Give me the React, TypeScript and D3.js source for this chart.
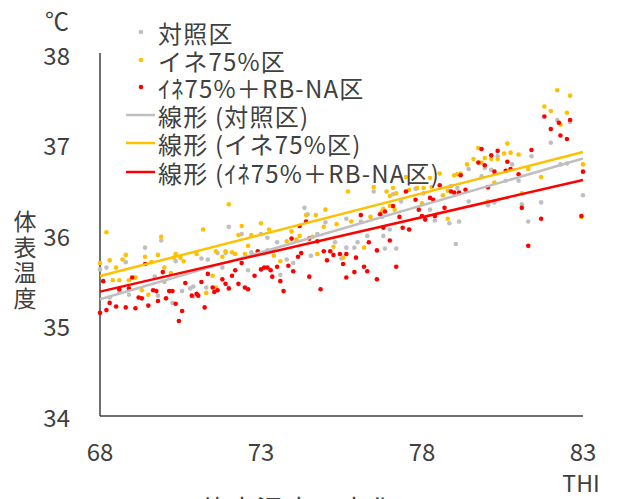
import React from "react";
import * as d3 from "d3";

// 対照区
const controlPoints: [number, number][] = [
  [68.0, 35.62], [68.2, 35.64], [68.8, 35.7], [69.1, 35.53], [69.4, 35.86], [69.7, 35.54], [69.9, 35.94],
  [70.35, 35.71], [70.0, 35.48], [70.55, 35.38], [68.3, 35.31], [68.9, 35.34], [69.8, 35.33], [70.25, 35.25],
  [70.9, 35.43], [68.6, 35.37], [72.0, 36.09], [72.4, 36.01], [73.0, 36.01], [73.2, 35.97], [71.65, 35.8],
  [71.9, 35.8], [71.15, 35.74], [71.35, 35.73], [72.7, 35.81], [73.5, 35.92], [73.2, 35.83], [71.8, 35.64],
  [72.6, 35.61], [73.6, 35.56], [71.3, 35.42], [70.8, 35.41], [70.9, 35.32], [73.4, 35.83],
  [76.5, 36.48], [74.35, 36.3], [74.45, 36.23], [75.0, 36.14], [75.65, 36.18], [76.1, 36.15], [74.75, 36.01],
  [75.3, 35.92], [76.0, 35.92], [76.3, 35.99], [76.75, 36.2], [76.8, 35.99], [75.9, 35.86], [74.55, 35.77],
  [74.0, 35.69], [73.8, 35.73], [75.5, 35.74], [75.65, 35.86], [76.85, 35.85],
  [79.45, 36.73], [78.9, 36.54], [79.1, 36.52], [78.05, 36.46], [77.8, 36.51], [77.35, 36.37], [77.1, 36.45],
  [79.45, 36.37], [78.85, 36.13], [79.15, 36.15], [78.4, 36.16], [77.6, 36.06], [77.0, 36.06], [77.2, 35.85],
  [79.05, 35.9], [78.25, 36.28],
  [82.2, 37.27], [82.6, 37.25], [82.0, 37.02], [81.4, 36.87], [80.35, 36.87], [80.8, 36.78], [82.3, 36.78],
  [82.5, 36.79], [79.95, 36.74], [79.85, 36.65], [80.6, 36.6], [81.0, 36.6], [80.05, 36.52], [81.7, 36.36],
  [81.1, 36.34], [80.05, 36.33], [80.25, 36.36], [81.3, 36.15], [83.0, 36.44], [80.15, 36.72],
];

// イネ75%区
const ricePoints: [number, number][] = [
  [68.2, 36.03], [68.0, 35.69], [68.3, 35.72], [68.5, 35.64], [68.7, 35.73], [68.8, 35.78], [68.4, 35.5],
  [68.6, 35.5], [68.9, 35.5], [69.1, 35.53], [69.4, 35.76], [69.6, 35.7], [69.8, 35.78], [69.9, 35.98],
  [70.0, 35.64], [70.3, 35.75], [70.35, 35.79], [70.5, 35.75], [70.6, 35.71], [69.3, 35.39], [69.5, 35.34],
  [70.2, 35.58],
  [72.0, 36.34], [71.2, 36.06], [72.4, 36.1], [73.0, 36.13], [72.3, 36.0], [72.7, 36.0], [73.25, 36.06],
  [72.6, 35.88], [71.9, 35.82], [71.6, 35.82], [72.1, 35.81], [72.2, 35.79], [72.5, 35.79], [71.8, 35.76],
  [71.0, 35.79], [73.6, 35.71], [73.4, 35.77], [73.8, 35.93], [71.5, 35.55], [71.3, 35.36], [71.6, 35.42],
  [75.7, 36.48], [76.5, 36.53], [75.0, 36.28], [74.4, 36.22], [74.7, 36.22], [75.35, 36.12], [75.8, 36.15],
  [76.4, 36.2], [74.95, 36.09], [73.95, 36.04], [74.2, 35.99], [74.6, 35.98], [74.1, 35.95], [75.25, 35.87],
  [76.2, 35.86], [75.55, 35.75], [74.75, 35.79], [76.75, 36.26],
  [79.6, 36.84], [79.4, 36.78], [79.1, 36.67], [79.2, 36.68], [79.0, 36.66], [78.55, 36.68], [78.25, 36.63],
  [77.5, 36.64], [78.3, 36.53], [78.05, 36.52], [77.85, 36.52], [77.6, 36.5], [77.2, 36.46], [77.0, 36.43],
  [76.9, 36.48], [77.1, 36.52], [78.65, 36.44], [78.8, 36.49], [76.8, 36.29], [77.0, 36.32], [78.8, 36.18],
  [77.15, 36.28], [78.0, 36.35],
  [82.2, 37.6], [82.6, 37.54], [81.8, 37.42], [82.0, 37.37], [82.5, 37.35], [82.3, 37.22], [79.75, 36.96],
  [80.65, 37.01], [80.55, 36.9], [80.75, 36.91], [81.0, 36.89], [80.15, 36.84], [80.35, 36.84], [79.95, 36.85],
  [79.85, 36.8], [81.3, 36.73], [81.7, 36.64], [83.0, 36.78], [80.25, 36.58], [81.1, 36.46], [80.05, 36.37],
  [82.95, 36.2],
];

// イネ75%＋RB-NA区
const rbnaPoints: [number, number][] = [
  [68.1, 35.49], [68.0, 35.14], [68.2, 35.17], [68.3, 35.25], [68.5, 35.21], [68.8, 35.2], [69.1, 35.19],
  [68.6, 35.4], [68.9, 35.41], [69.0, 35.53], [69.2, 35.31], [69.3, 35.3], [69.4, 35.68], [69.65, 35.39],
  [69.75, 35.38], [69.5, 35.22], [69.8, 35.27], [70.05, 35.3], [70.15, 35.38], [70.25, 35.38], [70.35, 35.24],
  [70.45, 35.05], [70.55, 35.16], [70.65, 35.47], [70.85, 35.33], [69.95, 35.59],
  [72.9, 35.82], [72.4, 35.69], [72.2, 35.61], [72.1, 35.55], [73.0, 35.62], [73.1, 35.64], [73.2, 35.64],
  [73.3, 35.61], [73.5, 35.65], [72.8, 35.55], [73.35, 35.54], [73.6, 35.49], [71.15, 35.48], [71.35, 35.57],
  [71.8, 35.51], [71.9, 35.46], [71.5, 35.42], [71.55, 35.37], [71.65, 35.39], [72.0, 35.41], [72.3, 35.46],
  [72.5, 35.42], [72.6, 35.4], [73.7, 35.38], [71.0, 35.35], [71.05, 35.33], [71.25, 35.2],
  [76.1, 36.22], [76.7, 36.23], [74.4, 36.15], [74.2, 36.1], [73.95, 35.96], [74.5, 35.96], [74.75, 35.93],
  [75.15, 35.82], [74.95, 35.82], [75.25, 35.78], [75.45, 35.79], [75.65, 35.79], [76.35, 35.92], [76.6, 35.83],
  [74.25, 35.8], [74.15, 35.76], [75.05, 35.72], [75.95, 35.75], [75.55, 35.68], [73.85, 35.66], [74.0, 35.6],
  [76.2, 35.65], [76.3, 35.6], [75.9, 35.59], [74.5, 35.54], [75.65, 35.53], [76.6, 35.51], [74.85, 35.4],
  [79.75, 36.8], [79.2, 36.66], [78.55, 36.55], [78.9, 36.48], [79.0, 36.47], [79.15, 36.47], [79.35, 36.5],
  [77.5, 36.48], [77.8, 36.39], [78.25, 36.41], [78.35, 36.39], [77.1, 36.32], [76.85, 36.26], [78.7, 36.3],
  [77.9, 36.28], [78.0, 36.21], [78.1, 36.17], [77.3, 36.2], [78.4, 36.21], [77.4, 36.08], [77.6, 36.06],
  [76.8, 36.08], [77.0, 35.94], [77.2, 35.65],
  [81.8, 37.31], [82.25, 37.24], [82.6, 37.27], [82.0, 37.17], [82.3, 37.1], [82.5, 37.06], [79.85, 36.95],
  [80.15, 36.88], [80.35, 36.93], [79.95, 36.77], [80.65, 36.81], [81.4, 36.94], [80.75, 36.73], [80.6, 36.71],
  [80.25, 36.7], [81.0, 36.67], [83.0, 36.7], [80.05, 36.53], [81.1, 36.3], [81.7, 36.18], [82.95, 36.21],
  [81.3, 35.88],
];

// 線形近似 (THI 68 と 83 での値)
const trendEnds: [number, number][] = [
  [35.29, 36.845],
  [35.547, 36.917],
  [35.374, 36.608],
];

const seriesNames = ["対照区", "イネ75%区", "ｲﾈ75%＋RB-NA区"];
const seriesColors = ["#BFBFBF", "#FFC000", "#FF0000"];
const xTicks = [68, 73, 78, 83];
const yTicks = [34, 35, 36, 37, 38];

const font = "'Noto Sans CJK JP', 'Noto Sans', sans-serif";
const textColor = "#404040";

export default function App() {
  const width = 617;
  const height = 499;

  const xScale = d3.scaleLinear().domain([68, 83]).range([100, 583]);
  const yScale = d3.scaleLinear().domain([34, 38]).range([416, 54]);

  const pointSets = [controlPoints, ricePoints, rbnaPoints];
  const line = d3
    .line<[number, number]>()
    .x((d) => xScale(d[0]))
    .y((d) => yScale(d[1]));

  const legendY = [32, 60, 87, 115, 143, 172];

  return (
    <svg
      width={width}
      height={height}
      style={{ position: "absolute", left: 0, top: 0, background: "#fff" }}
      fontFamily={font}
    >
      {/* axes */}
      <line x1={xScale(68)} x2={xScale(68)} y1={yScale(38) - 1} y2={yScale(34)} stroke={textColor} strokeWidth={1.5} />
      <line x1={xScale(68)} x2={xScale(83)} y1={yScale(34)} y2={yScale(34)} stroke={textColor} strokeWidth={1.5} />

      {yTicks.map((t) => (
        <text key={t} x={70} y={yScale(t)} textAnchor="end" dominantBaseline="central" fontSize={24} fill={textColor}>
          {t}
        </text>
      ))}
      {xTicks.map((t) => (
        <text key={t} x={xScale(t)} y={450} textAnchor="middle" dominantBaseline="central" fontSize={24} fill={textColor}>
          {t}
        </text>
      ))}

      <text x={57} y={19} textAnchor="middle" dominantBaseline="central" fontSize={24} fill={textColor}>
        ℃
      </text>
      <text
        x={25}
        y={210}
        fontSize={23}
        fill={textColor}
        letterSpacing={2.5}
        style={{ writingMode: "vertical-rl" }}
      >
        体表温度
      </text>
      <text x={581} y={482} textAnchor="middle" dominantBaseline="central" fontSize={23} fill={textColor}>
        THI
      </text>
      <text x={298} y={509} textAnchor="middle" dominantBaseline="central" fontSize={28} fill={textColor}>
        体表温度の変化
      </text>

      {/* points */}
      {pointSets.map((pts, s) => (
        <g key={s}>
          {pts.map(([x, y], i) => (
            <circle key={i} cx={xScale(x)} cy={yScale(y)} r={2.3} fill={seriesColors[s]} />
          ))}
        </g>
      ))}

      {/* trend lines */}
      {trendEnds.map(([a, b], s) => (
        <path
          key={s}
          d={line([
            [68, a],
            [83, b],
          ]) ?? ""}
          stroke={seriesColors[s]}
          strokeWidth={2.5}
          fill="none"
        />
      ))}

      {/* legend */}
      <g fontSize={24} letterSpacing={1.2} fill={textColor}>
        {seriesNames.map((name, i) => (
          <g key={"p" + i}>
            <circle cx={141} cy={legendY[i]} r={2.3} fill={seriesColors[i]} />
            <text x={158} y={legendY[i]} dominantBaseline="central">
              {name}
            </text>
          </g>
        ))}
        {seriesNames.map((name, i) => (
          <g key={"l" + i}>
            <line x1={126} x2={155} y1={legendY[i + 3]} y2={legendY[i + 3]} stroke={seriesColors[i]} strokeWidth={2.5} />
            <text x={158} y={legendY[i + 3]} dominantBaseline="central">
              {`線形 (${name})`}
            </text>
          </g>
        ))}
      </g>
    </svg>
  );
}
